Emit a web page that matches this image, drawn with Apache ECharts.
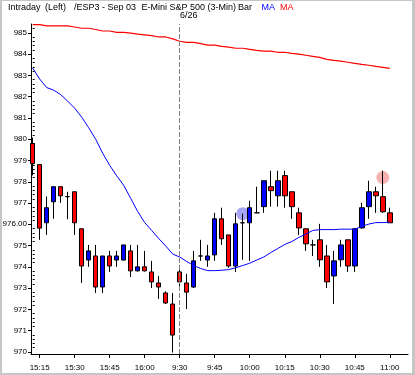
<!DOCTYPE html>
<html><head><meta charset="utf-8">
<script src="https://cdn.jsdelivr.net/npm/echarts@6/dist/echarts.min.js"></script>
<style>
html,body{margin:0;padding:0;background:#fff;}
#wrap{position:relative;width:415px;height:375px;overflow:hidden;}
#chart{position:absolute;left:0;top:0;width:415px;height:375px;}
#frame{position:absolute;left:0;top:0;width:415px;height:375px;box-sizing:border-box;border-style:solid;border-color:#c6c6c6;border-width:1px 3px 2px 2px;pointer-events:none;}
</style></head><body>
<div id="wrap"><div id="chart"></div><div id="frame"></div></div>
<script>
// ---- data ----
const times = ['15:12','15:15','15:18','15:21','15:24','15:27','15:30','15:33','15:36','15:39','15:42','15:45','15:48','15:51','15:54','15:57','16:00','16:03','16:06','16:09','16:12',
  '9:30','9:33','9:36','9:39','9:42','9:45','9:48','9:51','9:54','9:57','10:00','10:03','10:06','10:09','10:12','10:15','10:18','10:21','10:24','10:27','10:30','10:33','10:36','10:39','10:42','10:45','10:48','10:51','10:54','10:57','11:00'];
const open  = [979.80,978.81,976.07,977.06,977.77,977.30,977.53,975.79,974.32,974.51,973.05,974.51,974.32,974.32,974.75,973.81,974.00,973.76,973.24,972.77,972.25,
  973.76,973.24,973.05,974.51,974.32,974.56,976.26,975.50,974.04,976.07,976.07,976.54,976.83,977.77,977.34,978.29,977.53,976.54,975.79,975.03,975.27,974.51,973.57,974.33,975.27,974.04,975.83,976.83,977.53,977.30,976.54];
const close = [978.85,975.82,976.78,977.77,977.34,977.30,976.07,974.04,974.75,973.05,974.51,974.04,974.51,975.03,973.81,974.00,973.81,973.29,973.05,972.30,970.79,
  973.29,972.81,974.28,974.51,974.51,976.26,975.32,974.04,976.02,976.07,976.78,976.54,978.05,977.58,978.05,977.34,976.83,975.83,975.08,975.03,974.33,973.29,974.28,975.03,974.04,975.79,976.78,977.53,977.34,976.59,976.07];
const low   = [978.30,975.27,975.50,976.26,977.01,976.24,975.50,973.24,974.00,972.77,972.77,973.76,974.00,974.30,973.52,973.78,973.78,973.00,972.49,972.25,969.97,
  973.00,972.01,973.00,974.28,974.00,974.28,975.03,973.95,973.76,974.33,974.28,976.54,976.54,976.83,976.83,976.78,976.26,975.50,974.75,974.51,974.00,973.00,972.25,974.00,973.76,973.76,975.80,976.26,976.54,976.54,976.07];
const high  = [980.08,978.81,977.31,977.77,977.77,977.53,977.53,975.79,975.03,975.03,974.51,974.75,974.75,975.03,975.03,975.03,974.75,974.28,973.57,972.85,972.77,
  974.09,973.67,974.75,975.27,975.03,976.54,976.78,975.50,976.54,976.50,977.11,977.77,978.05,978.52,978.52,978.52,977.53,976.78,975.79,975.27,976.02,975.03,974.75,975.27,975.27,975.79,977.01,978.05,977.77,978.52,976.78];
const maBlue = [983.35,982.83,982.43,982.31,982.10,981.79,981.46,981.04,980.54,980.00,979.34,978.77,978.28,977.83,977.22,976.60,976.08,975.71,975.33,974.98,974.60,
  974.46,974.25,974.06,973.92,973.82,973.82,973.84,973.87,973.96,974.06,974.17,974.32,974.46,974.67,974.86,975.05,975.19,975.38,975.54,975.71,975.75,975.75,975.75,975.77,975.77,975.77,975.90,976.01,976.08,976.08,976.10];
const maRed = [985.39,985.39,985.33,985.33,985.33,985.33,985.28,985.22,985.22,985.16,985.09,985.09,985.03,985.03,984.99,984.94,984.91,984.87,984.81,984.81,984.72,
  984.61,984.56,984.56,984.50,984.43,984.43,984.37,984.33,984.28,984.28,984.23,984.18,984.14,984.14,984.09,984.09,984.04,984.00,983.95,983.90,983.85,983.76,983.71,983.67,983.62,983.57,983.52,983.48,983.43,983.38,983.33];
const xTickIndex = [1,6,11,16,21,26,31,36,41,46,51];
const yTicks = [970,971,972,973,974,975,976,977,978,979,980,981,982,983,984,985];
const sessionStartIndex = 21;
const dateLabel = '6/26';
const blueMarker = [30, 976.50];
const redMarker = [50, 978.20];
const headerParts = [
  {text:'Intraday', color:'#000'},
  {text:'(Left)', color:'#000'},
  {text:'/ESP3 - Sep 03', color:'#000'},
  {text:'E-Mini S&P 500 (3-Min)', color:'#000'},
  {text:'Bar', color:'#000'},
  {text:'MA', color:'#0000ff'},
  {text:'MA', color:'#ff0000'}
];

// ---- chart ----
const headerX = [8, 45, 74, 141.5, 238, 261.5, 280];
const axisFont = '"Liberation Sans",Arial,sans-serif';
const hdrFont = '9px "Liberation Sans",Arial,sans-serif';
const minorTicks = [];
for (let v = 970; v < 985.4; v += 0.2) { const r = Math.round(v*10)/10; if (Math.abs(r - Math.round(r)) > 0.05) minorTicks.push(r); }

const candleData = times.map((t,i) => [i, open[i], close[i], low[i], high[i]]);
const chart = echarts.init(document.getElementById('chart'), null, {renderer:'canvas'});
const graphics = headerParts.map((p,k) => ({
  type:'text', x: headerX[k], y: 7.5, silent:true,
  style:{text:p.text, fill:p.color, font:hdrFont, verticalAlign:'middle', align:'left'}
}));
graphics.push({type:'text', x:180, y:16, silent:true, style:{text:dateLabel, fill:'#000', font:hdrFont, verticalAlign:'middle', align:'left'}});

chart.setOption({
  animation:false,
  backgroundColor:'#fff',
  graphic: graphics,
  grid:{left:31, top:24, right:7, bottom:21, outerBoundsMode:'none', containLabel:false},
  xAxis:{
    type:'value', min:-0.24, max:53.6, splitLine:{show:false},
    axisLine:{show:true, onZero:false, lineStyle:{color:'#000', width:1}},
    axisTick:{show:true, length:4, customValues:xTickIndex, lineStyle:{color:'#000'}},
    axisLabel:{customValues:xTickIndex, formatter:v => times[Math.round(v)], margin:10, color:'#000', fontSize:8, fontFamily:axisFont}
  },
  yAxis:[{
    type:'value', min:969.9, max:985.42, position:'left', splitLine:{show:false},
    axisLine:{show:true, onZero:false, lineStyle:{color:'#000', width:1}},
    axisTick:{show:true, length:3, customValues:yTicks, lineStyle:{color:'#000'}},
    axisLabel:{customValues:yTicks, formatter:v => (Math.round(v) === 976 ? '976.00' : String(Math.round(v))), margin:4, color:'#000', fontSize:8, fontFamily:axisFont}
  },{
    type:'value', min:969.9, max:985.42, position:'left', splitLine:{show:false},
    axisLine:{show:false}, axisLabel:{show:false},
    axisTick:{show:true, inside:true, length:2, customValues:minorTicks, lineStyle:{color:'#000'}}
  }],
  series:[
    {type:'scatter', z:1, symbol:'circle', symbolSize:13, silent:true,
     data:[{value:blueMarker, itemStyle:{color:'rgba(70,70,235,0.6)'}},{value:redMarker, itemStyle:{color:'rgba(235,60,60,0.5)'}}]},
    {type:'candlestick', z:3, barWidth:5, data:candleData,
     encode:{x:0, y:[1,2,3,4]},
     itemStyle:{color:'#0000ff', color0:'#ff0000', borderColor:'#000', borderColor0:'#000', borderColorDoji:'#000', borderWidth:1},
     markLine:{silent:true, symbol:['none','none'], label:{show:false},
       lineStyle:{type:[5,2], color:'#808080', width:1},
       data:[{xAxis:sessionStartIndex}]}
    },
    {type:'line', z:4, data:maBlue.map((v,i)=>[i,v]), showSymbol:false, symbol:'none', lineStyle:{color:'#0000ff', width:1}, silent:true},
    {type:'line', z:4, data:maRed.map((v,i)=>[i,v]), showSymbol:false, symbol:'none', lineStyle:{color:'#ff0000', width:1.2}, silent:true}
  ]
});
</script>
</body></html>
